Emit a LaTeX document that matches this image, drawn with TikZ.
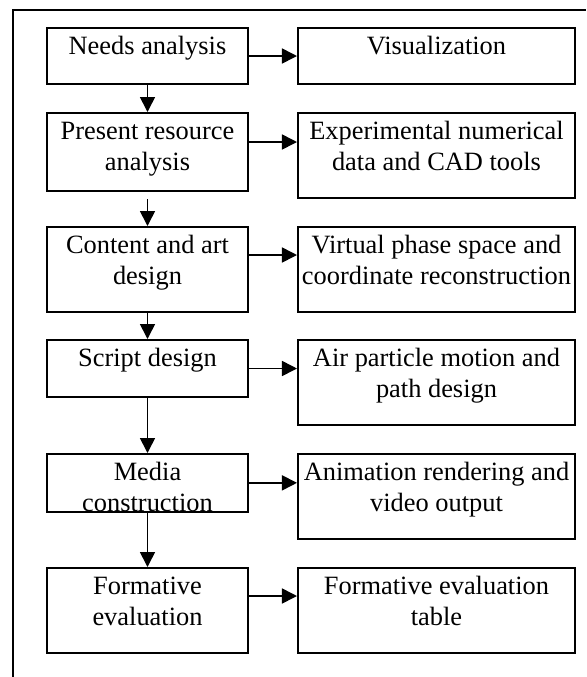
\documentclass[tikz,border=0pt]{standalone}
\usepackage{fontspec}
\setmainfont{Liberation Serif}
\usetikzlibrary{arrows.meta,positioning,calc}

\begin{document}
\begin{tikzpicture}[
    x=0.5pt, y=-0.5pt,
    box/.style={rectangle, draw, line width=1pt, anchor=north west, inner xsep=0.5pt, inner ysep=0pt, text height=13pt, text depth=#1, align=center, font=\fontsize{13.2}{15.85}\selectfont},
    lbox/.style={box=#1, minimum width=100.5pt},
    rbox/.style={box=#1, minimum width=138.5pt},
    two/.style={text height=28.85pt},
    arrow/.style={-{Triangle[length=7.5pt, width=7.5pt]}, line width=0.8pt}
]
\useasboundingbox (0,0) rectangle (586,677);

% Outer frame
\draw[line width=1pt] (586,10) -- (13,10) -- (13,677);

% Left column
\node[lbox=15pt] (needs) at (46,27) {Needs analysis};
\node[lbox=10.15pt, two] (present) at (46,112) {Present resource\\analysis};
\node[lbox=13.65pt, two] (content) at (46,226) {Content and art\\design};
\node[lbox=15.5pt] (script) at (46,339) {Script design};
\node[lbox=-0.85pt, two] (media) at (46,453) {Media\\construction};
\node[lbox=13.65pt, two] (formative) at (46,567) {Formative\\evaluation};

% Right column
\node[rbox=15pt] (visual) at (297,27) {Visualization};
\node[rbox=13.65pt, two] (data) at (297,112) {Experimental numerical\\data and CAD tools};
\node[rbox=13.65pt, two] (phase) at (297,226) {Virtual phase space and\\coordinate reconstruction};
\node[rbox=13.65pt, two] (particle) at (297,339) {Air particle motion and\\path design};
\node[rbox=13.65pt, two] (render) at (297,453) {Animation rendering and\\video output};
\node[rbox=13.65pt, two] (table) at (297,567) {Formative evaluation\\table};

% Arrows down the left column
\draw[arrow] (needs) -- (present);
\draw[arrow, shorten <=3.5pt] (present) -- (content);
\draw[arrow] (content) -- (script);
\draw[arrow] (script) -- (media);
\draw[arrow] (media) -- (formative);

% Arrows to the right column
\draw[arrow] (needs.east) -- (needs.east -| visual.west);
\draw[arrow] ([yshift=5pt]present.east) -- ([yshift=5pt]present.east -| data.west);
\draw[arrow] ([yshift=7.25pt]content.east) -- ([yshift=7.25pt]content.east -| phase.west);
\draw[arrow] (script.east) -- (script.east -| particle.west);
\draw[arrow] (media.east) -- (media.east -| render.west);
\draw[arrow] ([yshift=7.25pt]formative.east) -- ([yshift=7.25pt]formative.east -| table.west);

\end{tikzpicture}
\end{document}
